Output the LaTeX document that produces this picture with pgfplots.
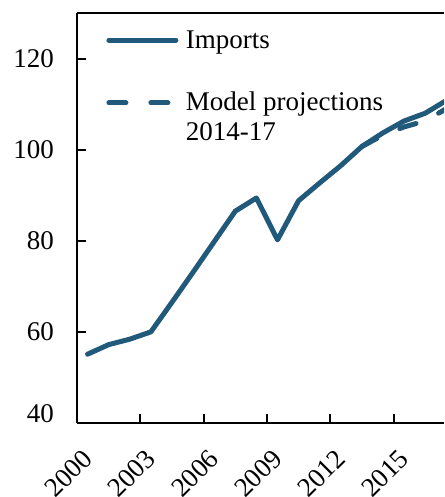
\documentclass[border=0pt]{standalone}
\usepackage{fontspec}
\setmainfont{Liberation Serif}
\usepackage{pgfplots}
\pgfplotsset{compat=1.18}
\definecolor{imp}{RGB}{33,89,122}
\begin{document}
\begin{tikzpicture}
\begin{axis}[
  scale only axis, width=183.5pt, height=205pt,
  xmin=2000, xmax=2017.39, ymin=40, ymax=130,
  axis x line*=box, axis y line*=left,
  xtick pos=bottom, ytick pos=left,
  tick align=inside, major tick length=4.3pt,
  xtick={2000,2003,...,2015},
  ytick={60,80,100,120},
  extra y ticks={40},
  extra y tick style={yticklabel style={yshift=4.5pt}},
  /pgf/number format/assume math mode=true,
  /pgf/number format/1000 sep={},
  tick label style={font=\fontsize{13.5}{16}\selectfont},
  yticklabel style={xshift=-8pt},
  xticklabel style={xshift=2pt,yshift=-7.5pt,rotate=45,anchor=north east},
  axis line style={line width=1pt, black},
  tick style={line width=1pt, black},
  legend style={draw=none, fill=none, at={(0,1)}, anchor=north west,
    xshift=11.5pt, yshift=-4.5pt,
    font=\fontsize{13.5}{15}\selectfont, row sep=16.5pt,
    nodes={anchor=base west}},
  legend cell align=left,
  legend image code/.code={\draw[#1] (0pt,4pt) -- (33.5pt,4pt); \path (35.25pt,4pt);},
]
\addplot[imp, line width=2.5pt, line cap=round, line join=round] coordinates {
(2000.5,55.1) (2001.5,57.2) (2002.5,58.4) (2003.5,60.0) (2004.5,66.5)
(2005.5,73.1) (2006.5,79.8) (2007.5,86.5) (2008.5,89.4) (2009.5,80.2)
(2010.5,88.8) (2011.5,92.7) (2012.5,96.5) (2013.5,100.7) (2014.5,103.7)
(2015.5,106.3) (2016.5,108.0) (2017.5,110.8)
};
\addlegendentry{Imports}
\addplot[imp, line width=2.5pt, line cap=round, dash pattern=on 8.5pt off 12.5pt] coordinates {
(2013.5,100.7) (2014.5,103.2) (2015.5,105.0) (2016.5,106.3) (2017.5,109.0)
};
\addlegendentry{\vtop{\hbox{Model projections}\hbox{2014-17}}}
\end{axis}
\pgfresetboundingbox
\path (-38.5pt,-37pt) rectangle (183.5pt,211.5pt);
\end{tikzpicture}
\end{document}
